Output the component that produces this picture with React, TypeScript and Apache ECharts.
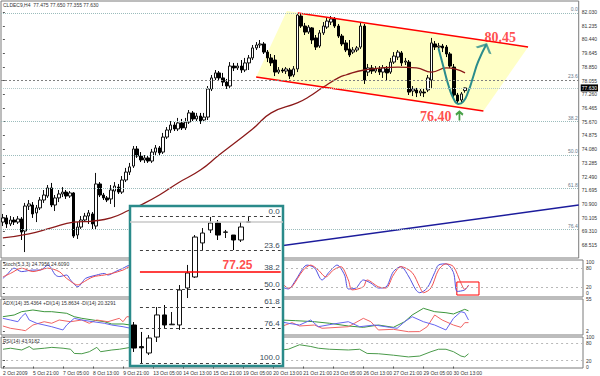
import React, { useEffect, useRef } from "react";
import * as echarts from "echarts";

// ---------- texts ----------
const HEADER = "CLDEC9,H4  77.475 77.650 77.355 77.630";
const STOCH_TITLE = "Stoch(5,3,3) 24.7956 24.6090";
const ADX_TITLE = "ADX(14) 35.4364 +DI(14) 15.8634 -DI(14) 20.3291";
const RSI_TITLE = "RSI(14) 43.9182";

const TIME_LABELS = [
  "2 Oct 2009", "5 Oct 21:00", "7 Oct 05:00", "8 Oct 13:00", "9 Oct 21:00",
  "13 Oct 05:00", "14 Oct 13:00", "15 Oct 21:00", "19 Oct 05:00", "20 Oct 13:00",
  "21 Oct 21:00", "23 Oct 05:00", "26 Oct 13:00", "27 Oct 21:00", "29 Oct 05:00", "30 Oct 13:00",
];
const LABEL_EVERY = 8;
const SLOTS = 155;

// ---------- price axis ----------
const PRICE_MIN = 67.766;
const PRICE_MAX = 82.672;
const PRICE_TICKS = [
  82.03, 81.235, 80.44, 79.645, 78.85, 78.055, 77.26, 76.465, 75.67, 74.875,
  74.08, 73.285, 72.49, 71.695, 70.9, 70.105, 69.31, 68.515,
];
const CURRENT_PRICE = 77.63;

// H4 candles: [open, close, low, high]
const CANDLES = [
  [69.85, 70.09, 69.62, 70.32], [70.09, 69.74, 69.51, 70.26], [69.74, 69.97, 69.62, 70.2], [69.97, 69.85, 69.68, 70.14],
  [69.85, 70.03, 69.74, 70.2], [70.03, 69.27, 68.81, 70.14], [69.33, 70.78, 68.11, 70.96], [70.78, 70.9, 70.55, 71.13],
  [70.84, 70.32, 70.09, 71.01], [70.38, 70.67, 69.85, 70.84], [70.67, 71.13, 70.55, 71.3], [71.13, 71.42, 70.96, 71.71],
  [71.36, 71.83, 71.25, 72.0], [71.83, 70.84, 70.72, 72.12], [70.84, 71.25, 70.49, 71.42], [71.25, 71.48, 71.01, 71.71],
  [71.48, 71.59, 71.3, 71.88], [71.59, 71.36, 71.19, 71.71], [71.36, 71.54, 71.25, 71.65], [71.54, 69.04, 68.93, 71.59],
  [69.1, 69.56, 68.87, 69.85], [69.56, 69.97, 69.45, 70.2], [69.97, 70.2, 69.85, 70.38], [70.2, 70.38, 69.74, 70.55],
  [70.32, 69.74, 69.45, 70.43], [69.62, 72.06, 69.39, 72.7], [72.06, 71.42, 71.3, 72.17], [71.42, 71.25, 71.13, 71.54],
  [71.25, 71.13, 71.01, 71.36], [71.19, 71.71, 70.9, 72.0], [71.65, 71.94, 70.72, 72.17], [71.88, 71.59, 71.48, 72.06],
  [71.59, 72.29, 71.48, 72.52], [72.29, 72.75, 72.17, 72.99], [72.75, 73.05, 72.58, 73.28], [73.1, 74.09, 72.99, 74.26],
  [74.09, 73.68, 73.57, 74.26], [73.68, 73.45, 73.33, 73.91], [73.45, 73.57, 73.28, 73.74], [73.57, 73.39, 73.28, 73.68],
  [73.39, 73.91, 73.28, 74.09], [73.91, 74.15, 73.74, 74.32], [74.15, 73.86, 73.74, 74.26], [73.91, 74.78, 73.8, 75.02],
  [74.78, 75.19, 74.67, 75.36], [75.19, 75.48, 75.02, 75.71], [75.48, 75.25, 75.13, 75.65], [75.25, 75.6, 75.13, 75.89],
  [75.6, 75.31, 75.19, 75.83], [75.31, 75.65, 75.19, 75.89], [75.65, 76.18, 75.54, 76.35], [76.18, 75.83, 75.71, 76.29],
  [75.83, 76.0, 75.71, 76.18], [76.0, 75.71, 75.54, 76.18], [75.77, 75.94, 75.65, 76.18], [75.94, 77.57, 75.77, 77.74],
  [77.57, 78.21, 77.45, 78.38], [78.21, 78.5, 78.09, 78.67], [78.5, 78.21, 78.03, 78.61], [78.21, 77.97, 77.74, 78.5],
  [77.97, 77.74, 77.57, 78.15], [77.74, 78.9, 77.63, 79.13], [78.9, 78.79, 78.61, 79.08], [78.79, 78.9, 78.67, 79.08],
  [78.9, 78.67, 78.5, 79.25], [78.67, 79.08, 78.55, 79.37], [79.08, 79.37, 78.67, 79.54], [79.37, 79.95, 79.25, 80.12],
  [79.95, 80.12, 79.83, 80.29], [80.12, 80.18, 79.95, 80.41], [80.18, 79.71, 79.6, 80.29], [79.71, 79.37, 79.13, 79.83],
  [79.37, 79.08, 78.9, 79.6], [79.25, 78.55, 78.32, 79.54], [78.55, 78.67, 78.44, 78.84], [78.67, 78.61, 78.5, 78.79],
  [78.61, 78.73, 78.44, 78.84], [78.67, 78.32, 78.15, 78.79], [78.38, 78.73, 78.26, 78.9], [78.73, 81.86, 78.55, 81.92],
  [81.8, 81.22, 81.11, 81.92], [81.22, 80.87, 80.7, 81.4], [80.87, 81.16, 80.76, 81.28], [81.11, 80.41, 80.18, 81.16],
  [80.53, 80.0, 79.83, 80.7], [80.06, 80.82, 79.95, 80.99], [80.82, 81.22, 80.7, 81.45], [81.16, 81.51, 81.05, 81.69],
  [81.45, 81.63, 81.28, 81.8], [81.63, 81.22, 81.11, 81.74], [81.22, 80.64, 80.53, 81.34], [80.64, 80.18, 80.06, 80.76],
  [80.24, 79.83, 79.71, 80.41], [79.89, 79.54, 79.42, 80.41], [79.71, 79.83, 79.6, 80.0], [79.83, 79.95, 79.71, 80.06],
  [80.0, 81.22, 79.89, 81.4], [81.22, 78.09, 77.86, 81.34], [78.55, 78.79, 78.32, 79.02], [78.79, 78.61, 78.44, 78.96],
  [78.61, 78.73, 78.5, 78.9], [78.73, 78.55, 78.38, 78.9], [78.55, 78.79, 78.21, 78.96], [78.73, 78.5, 78.09, 78.9],
  [78.55, 79.13, 78.44, 79.37], [79.13, 79.48, 79.02, 79.71], [79.42, 79.71, 79.25, 79.83], [79.66, 79.08, 78.9, 79.77],
  [79.13, 79.19, 78.96, 79.37], [79.13, 77.39, 77.22, 79.25], [77.45, 77.57, 77.16, 77.74], [77.51, 77.34, 77.1, 77.63],
  [77.34, 77.45, 77.16, 77.57], [77.39, 77.34, 77.1, 77.57], [77.51, 78.21, 77.39, 78.38], [78.09, 80.24, 77.63, 80.53],
  [80.18, 80.0, 79.83, 80.35], [80.0, 80.06, 79.83, 80.24], [80.06, 79.95, 79.71, 80.18], [80.0, 79.6, 79.42, 80.12],
  [79.6, 78.9, 78.79, 79.71], [78.84, 77.22, 77.1, 79.02], [77.22, 76.87, 76.7, 77.34], [76.93, 77.28, 76.81, 77.39],
  [77.475, 77.63, 77.355, 77.65],
];

// moving average [bar, price]
const MA = [
  [0, 68.93], [7, 69.16], [13, 69.51], [19, 69.85], [24, 69.91], [29, 70.09], [34, 70.55], [37, 70.84],
  [42, 71.42], [47, 72.12], [53, 72.87], [58, 73.74], [67, 75.25], [72, 76.18], [79, 76.76], [82, 77.1],
  [86, 77.68], [90, 78.21], [92, 78.38], [97, 78.67], [106, 78.84], [111, 78.79], [115, 78.55], [119, 78.79], [124, 78.5],
];

// Fibonacci on main chart
const FIB_MAIN_HIGH = 81.98;
const FIB_MAIN_LOW = 65.53;
const FIB_MAIN_LEVELS = [0, 23.6, 38.2, 50, 61.8, 76.4];

// channel & annotations [bar, price]
const CHANNEL_UPPER = [[79.13, 81.976], [140.92, 80.004]];
const CHANNEL_LOWER = [[67.95, 78.264], [128.93, 76.292]];
const CHANNEL_FILL = [[67.95, 78.264], [76.2, 82.092], [140.92, 80.004], [128.93, 76.292]];
const TRENDLINE = [[63.1, 68.13], [154.5, 70.84]];
const FORECAST_CURVE = [
  [116.87, 79.93], [118.2, 78.86], [119.53, 77.8], [120.86, 77.03], [122.2, 76.7],
  [123.53, 76.83], [124.86, 77.41], [126.19, 78.28], [127.52, 79.15], [129.73, 80.16],
];
const TARGET_LABELS = [
  { name: "80.45", value: [133.46, 80.58] },
  { name: "76.40", value: [116.15, 76.0] },
];
const LOW_MARK = [122.5, 76.0];

// ---------- indicators [bar, value] ----------
const STOCH_TICKS = [100, 80, 20, 0];
const STOCH_LEVELS = [80, 20];
const STOCH_MAIN = [
  [0, 47], [1, 58], [3, 80], [5, 69], [8, 74], [10, 74], [12, 90], [14, 58], [15, 53], [17, 58], [18, 42],
  [20, 20], [21, 32], [22, 47], [25, 58], [27, 63], [28, 58], [30, 69], [32, 80], [34, 90],
  [74, 20], [76, 13], [78, 42], [80, 81], [81, 90], [83, 81], [85, 42], [87, 69], [89, 90], [91, 58], [92, 13],
  [94, 16], [96, 42], [98, 32], [100, 16], [102, 19], [104, 69], [106, 85], [108, 55], [110, 10], [111, 1],
  [113, 16], [115, 66], [116, 90], [118, 94], [120, 66], [121, 5], [123, 10], [124, 24.8],
];
const STOCH_SIGNAL = [
  [0, 52], [2, 63], [5, 80], [8, 69], [12, 80], [15, 69], [17, 47], [20, 26], [21, 32], [24, 52], [27, 58],
  [29, 63], [32, 74], [34, 85],
  [74, 32], [76, 16], [77, 20], [80, 74], [82, 90], [84, 74], [86, 52], [88, 74], [90, 85], [92, 42], [93, 10],
  [96, 20], [97, 42], [100, 20], [102, 16], [104, 58], [106, 85], [109, 66], [111, 20], [112, 1], [114, 16],
  [116, 74], [118, 94], [120, 85], [122, 32], [123, 12], [124, 24.6],
];
const STOCH_BOX = [120.9, 35.5, 126.8, -6.5];

const ADX_TICKS = [55, 2];
const ADX_MAIN = [
  [0, 25.7], [3, 28.5], [5, 34], [8, 36.8], [11, 34], [13, 34], [17, 31.3], [19, 25.7], [21, 23], [24, 20.2],
  [27, 17.4], [29, 13.6], [32, 13.6], [34, 11.9],
  [74, 20.2], [78, 19.1], [83, 17.4], [87, 14.8], [92, 10.3], [96, 8.1], [100, 11.9], [104, 8.1], [107, 17.4],
  [109, 28.5], [112, 39.6], [115, 34], [118, 32.3], [120, 30.2], [123, 37.9], [124, 35.4],
];
const ADX_PLUS_DI = [
  [0, 10.3], [2, 6.5], [5, 3.7], [6, 2.5], [8, 11.9], [11, 17.4], [13, 14.8], [15, 20.2], [18, 17.4], [21, 20.2],
  [23, 14.8], [25, 20.2], [28, 17.4], [31, 23], [32, 17.4], [33, 25.7],
  [74, 9.1], [77, 15.8], [79, 10.3], [83, 11.9], [85, 6.5], [92, 9.1], [96, 23], [98, 17.4], [100, 3.7],
  [104, 4.8], [108, 0.8], [111, 1], [113, 9.1], [115, 28.5], [117, 20.2], [120, 11.9], [122, 8.1], [123, 15.8], [124, 15.9],
];
const ADX_MINUS_DI = [
  [0, 23], [2, 20.2], [4, 17.4], [5, 25.7], [6, 31.3], [7, 20.2], [9, 14.8], [13, 9.1], [16, 3.7], [17, 11.9],
  [19, 23], [21, 20.2], [24, 17.4], [27, 14.8], [29, 11.9], [32, 9.1], [34, 6.5],
  [74, 17.4], [76, 14.8], [79, 11.9], [82, 20.2], [84, 9.1], [88, 13.6], [92, 17.4], [95, 9.1], [99, 11.9],
  [103, 8.1], [105, 6.5], [107, 17.4], [109, 25.7], [112, 17.4], [115, 11.9], [118, 3.7], [120, 23], [122, 34],
  [123, 32.3], [124, 20.3],
];

const RSI_TICKS = [100, 80, 20, 0];
const RSI_LEVELS = [80, 20];
const RSI = [
  [0, 59.5], [2, 63], [5, 57], [7, 69], [8, 59.5], [11, 63], [13, 66], [16, 63], [18, 59.5], [19, 45], [21, 44],
  [23, 51], [25, 66], [26, 51], [29, 57], [31, 59.5], [34, 66],
  [74, 57], [76, 59.5], [79, 75], [82, 69], [84, 63], [87, 59.5], [92, 57], [95, 59.5], [97, 45], [100, 44],
  [104, 39], [108, 33], [111, 36], [114, 51], [116, 59.5], [118, 59.5], [120, 51], [122, 36], [123, 33], [124, 43.9],
];

// ---------- inset (Fibonacci retracement zoom) ----------
const INSET_SLOTS = 20;
const INSET_CANDLES = [
  [72.78, 70.83, 70.5, 73.03], [70.95, 70.85, 69.565, 72.19], [70.41, 71.68, 70.24, 71.93], [71.76, 73.63, 71.34, 74.3],
  [73.63, 72.78, 72.53, 74.47], [72.8, 72.85, 72.78, 73.88], [72.78, 75.74, 72.36, 76.16], [75.91, 77.18, 75.06, 77.86],
  [76.84, 80.22, 76.76, 80.39], [79.72, 80.56, 79.12, 80.98], [80.82, 81.41, 80.56, 81.92], [81.41, 80.39, 79.97, 81.66],
  [80.62, 80.65, 80.14, 80.82], [80.39, 79.97, 79.12, 80.39], [79.97, 81.07, 79.8, 81.49], [81.49, 81.49, 81.49, 82.0],
];
const INSET_MIN = 69.311;
const INSET_MAX = 82.846;
const INSET_HIGH = 82.0;
const INSET_LOW = 69.565;
const INSET_FIB_LEVELS = [0, 23.6, 38.2, 50, 61.8, 76.4, 100];
const INSET_KEY_LEVEL = 38.2;
const INSET_KEY_TEXT = "77.25";
const INSET_KEY_BAR = 13.55;
const INSET_FIB_SPAN = [0.8, 19.2];
const INSET_LAST = 81.49;

const FONT = "'Liberation Sans', Arial, sans-serif";
const tiny = { fontSize: 5, color: "#333", fontFamily: FONT };

function fibPrice(high: number, low: number, level: number) {
  return high - (level / 100) * (high - low);
}

function buildOption(): any {
  const border = { show: true, borderColor: "#7a7a7a", borderWidth: 1 };
  const grids = [
    { left: 1, top: 1, width: 582, height: 257, backgroundColor: "#fff", ...border },
    { left: 1, top: 260, width: 582, height: 37, ...border },
    { left: 1, top: 299, width: 582, height: 36, ...border },
    { left: 1, top: 337, width: 582, height: 31, ...border },
    { left: 130, top: 206, width: 153, height: 160, show: true, backgroundColor: "#fff", borderColor: "#2a8a8a", borderWidth: 2.5, z: 10 },
  ];
  const hiddenVal = (gridIndex: number, max: number) => ({
    type: "value", gridIndex, min: -0.5, max: max - 0.5, show: false, splitLine: { show: false },
  });
  const timeTicks = TIME_LABELS.map((_, k) => k * LABEL_EVERY);
  const xAxis = [
    { type: "category", gridIndex: 0, data: Array.from({ length: SLOTS }, (_, i) => String(i)), show: false, boundaryGap: true },
    hiddenVal(0, SLOTS),
    hiddenVal(1, SLOTS),
    hiddenVal(2, SLOTS),
    {
      type: "value", gridIndex: 3, min: -0.5, max: SLOTS - 0.5, splitLine: { show: false },
      axisLine: { show: false },
      axisTick: { show: true, length: 2, customValues: timeTicks, lineStyle: { color: "#555" } },
      axisLabel: {
        ...tiny, customValues: timeTicks, align: "left", margin: 2,
        formatter: (v: number) => TIME_LABELS[Math.round(v / LABEL_EVERY)] ?? "",
      },
    },
    { type: "category", gridIndex: 4, data: Array.from({ length: INSET_SLOTS }, (_, i) => String(i)), show: false, boundaryGap: true },
    hiddenVal(4, INSET_SLOTS),
  ];
  const rightAxis = (gridIndex: number, min: number, max: number, ticks: number[], fmt: (v: number) => string) => ({
    type: "value", gridIndex, position: "right", min, max, splitLine: { show: false },
    axisLine: { show: false },
    axisTick: { show: true, length: 2, customValues: ticks, lineStyle: { color: "#555" } },
    axisLabel: { ...tiny, customValues: ticks, margin: 3, formatter: fmt },
  });
  const yAxis = [
    rightAxis(0, PRICE_MIN, PRICE_MAX, PRICE_TICKS, (v) => v.toFixed(3)),
    rightAxis(1, -12.9, 106.45, STOCH_TICKS, (v) => String(v)),
    rightAxis(2, -4.62, 55, ADX_TICKS, (v) => String(v)),
    rightAxis(3, -5.17, 101.72, RSI_TICKS, (v) => String(v)),
    { type: "value", gridIndex: 4, min: INSET_MIN, max: INSET_MAX, show: false, splitLine: { show: false } },
  ];

  const line = (name: string, xi: number, yi: number, data: any[], color: string, width: number, extra: any = {}) => ({
    name, type: "line", xAxisIndex: xi, yAxisIndex: yi, data, symbol: "none",
    lineStyle: { color, width }, itemStyle: { color }, z: 3, ...extra,
  });
  const levelLines = (levels: number[]) => ({
    silent: true, symbol: ["none", "none"], label: { show: false },
    lineStyle: { color: "#b8b8b8", type: [2, 3], width: 1 },
    data: levels.map((l) => ({ yAxis: l })),
  });

  const series: any[] = [
    // channel fill
    {
      type: "custom", xAxisIndex: 1, yAxisIndex: 0, z: 1, silent: true,
      data: [CHANNEL_FILL.flat()],
      renderItem: (_p: any, api: any) => {
        const pts: number[][] = [];
        for (let k = 0; k < 4; k++) pts.push(api.coord([api.value(2 * k), api.value(2 * k + 1)]));
        return { type: "polygon", shape: { points: pts }, style: { fill: "#ffffc6" } };
      },
    },
    // candles
    {
      type: "candlestick", xAxisIndex: 0, yAxisIndex: 0, data: CANDLES, barWidth: 3, z: 2,
      itemStyle: { color: "#ffffff", color0: "#000000", borderColor: "#111", borderColor0: "#000", borderWidth: 1 },
      markLine: {
        silent: true, symbol: ["none", "none"],
        lineStyle: { color: "#b4c8c8", type: "dotted", width: 1 },
        label: {
          position: "end", formatter: CURRENT_PRICE.toFixed(3), backgroundColor: "#000", color: "#fff",
          fontSize: 5, fontFamily: FONT, padding: [1, 1], distance: 2,
        },
        data: [{ yAxis: CURRENT_PRICE }],
      },
    },
    // MA with fib levels
    line("MA", 1, 0, MA, "#8b1a1a", 1.3, {
      smooth: true,
      markLine: {
        silent: true, symbol: ["none", "none"],
        data: FIB_MAIN_LEVELS.map((l) => ({
          yAxis: fibPrice(FIB_MAIN_HIGH, FIB_MAIN_LOW, l),
          lineStyle: l === 23.6 ? { color: "#808080", type: [2, 2], width: 1 } : { color: "#9bbcbc", type: "dotted", width: 1 },
          label: { show: true, formatter: l.toFixed(1), position: "insideEndTop", distance: 1, fontSize: 5, color: "#6a7a8a", fontFamily: FONT },
        })),
      },
    }),
    line("upper", 1, 0, CHANNEL_UPPER, "#ff0000", 1.5),
    line("lower", 1, 0, CHANNEL_LOWER, "#ff0000", 1.5),
    line("trend", 1, 0, TRENDLINE, "#1c1c9c", 1.5),
    line("forecast", 1, 0, FORECAST_CURVE, "#2a8c8c", 2, { smooth: 0.5, z: 4 }),
    {
      type: "scatter", xAxisIndex: 1, yAxisIndex: 0, z: 4, silent: true,
      data: [FORECAST_CURVE[FORECAST_CURVE.length - 1]],
      symbol: "path://M0,10 L5,0 L10,10", symbolSize: [15, 7], symbolRotate: -25, symbolOffset: [-1.5, 3.2],
      itemStyle: { color: "rgba(0,0,0,0)", borderColor: "#2a8c8c", borderWidth: 2 },
    },
    {
      type: "scatter", xAxisIndex: 1, yAxisIndex: 0, z: 4, silent: true,
      data: [LOW_MARK],
      symbol: "path://M5,0 L5,14 M0,5 L5,0 L10,5", symbolSize: [7, 9],
      itemStyle: { color: "rgba(0,0,0,0)", borderColor: "#1a8a1a", borderWidth: 2 },
    },
    {
      type: "scatter", xAxisIndex: 1, yAxisIndex: 0, z: 4, silent: true, symbolSize: 0,
      data: TARGET_LABELS,
      label: {
        show: true, position: "inside", formatter: (p: any) => p.name,
        fontSize: 14, fontWeight: "bold", color: "#ff2020", fontFamily: "'Liberation Serif', 'Times New Roman', serif",
      },
    },
    // stochastic
    line("stoch", 2, 1, STOCH_MAIN, "#5050e0", 1, {
      smooth: 0.3,
      markArea: {
        silent: true,
        itemStyle: { color: "rgba(0,0,0,0)", borderColor: "#ff0000", borderWidth: 1 },
        data: [[{ coord: [STOCH_BOX[0], STOCH_BOX[1]] }, { coord: [STOCH_BOX[2], STOCH_BOX[3]] }]],
      },
      markLine: levelLines(STOCH_LEVELS),
    }),
    line("signal", 2, 1, STOCH_SIGNAL, "#f05050", 1, { smooth: 0.3 }),
    // ADX
    line("adx", 3, 2, ADX_MAIN, "#3c963c", 1),
    line("+di", 3, 2, ADX_PLUS_DI, "#f06464", 1),
    line("-di", 3, 2, ADX_MINUS_DI, "#6464f0", 1),
    // RSI
    line("rsi", 4, 3, RSI, "#4a9a4a", 1, { markLine: levelLines(RSI_LEVELS) }),
    // inset
    {
      type: "candlestick", xAxisIndex: 5, yAxisIndex: 4, data: INSET_CANDLES, barWidth: 5, z: 11,
      itemStyle: { color: "#ffffff", color0: "#000000", borderColor: "#111", borderColor0: "#000", borderWidth: 1 },
    },
    {
      type: "line", xAxisIndex: 6, yAxisIndex: 4, z: 11, symbol: "none", silent: true,
      data: [[INSET_FIB_SPAN[0], INSET_LOW], [INSET_FIB_SPAN[0], INSET_HIGH]],
      lineStyle: { opacity: 0 },
      markLine: {
        z: 12, silent: true, symbol: ["none", "none"],
        data: [
          { yAxis: INSET_LAST, lineStyle: { color: "#c8c8c8", width: 1.5, type: "solid" }, label: { show: false } },
          ...INSET_FIB_LEVELS.map((l) => {
            const p = fibPrice(INSET_HIGH, INSET_LOW, l);
            const key = l === INSET_KEY_LEVEL;
            return [
              {
                coord: [INSET_FIB_SPAN[0], p],
                lineStyle: key ? { color: "#ff0000", width: 1.5, type: "solid" } : { color: "#404040", width: 1, type: [3, 3] },
                label: { show: true, formatter: l.toFixed(1), position: "insideEndTop", distance: 1, fontSize: 8, color: "#3a4a58", fontFamily: FONT },
              },
              { coord: [INSET_FIB_SPAN[1], p] },
            ];
          }),
        ],
      },
    },
    {
      type: "scatter", xAxisIndex: 6, yAxisIndex: 4, z: 12, silent: true, symbolSize: 0,
      data: [{ name: INSET_KEY_TEXT, value: [INSET_KEY_BAR, fibPrice(INSET_HIGH, INSET_LOW, INSET_KEY_LEVEL)] }],
      label: {
        show: true, position: "top", distance: 1, formatter: (p: any) => p.name,
        fontSize: 12, fontWeight: "bold", color: "#ff2020", fontFamily: FONT,
      },
    },
  ];

  const title = (text: string, top: number) => ({
    text, left: 3, top, padding: 0, textStyle: { ...tiny, fontWeight: "normal" },
  });

  return {
    animation: false,
    backgroundColor: "#fff",
    title: [title(HEADER, 2), title(STOCH_TITLE, 261), title(ADX_TITLE, 300), title(RSI_TITLE, 338)],
    grid: grids,
    xAxis,
    yAxis,
    series,
  };
}

export default function App() {
  const ref = useRef<HTMLDivElement>(null);
  useEffect(() => {
    const chart = echarts.init(ref.current as HTMLDivElement, null, { renderer: "svg" });
    chart.setOption(buildOption());
    return () => chart.dispose();
  }, []);
  return (
    <div
      ref={ref}
      style={{ position: "fixed", left: 0, top: 0, width: 600, height: 376, background: "#fff" }}
    />
  );
}
